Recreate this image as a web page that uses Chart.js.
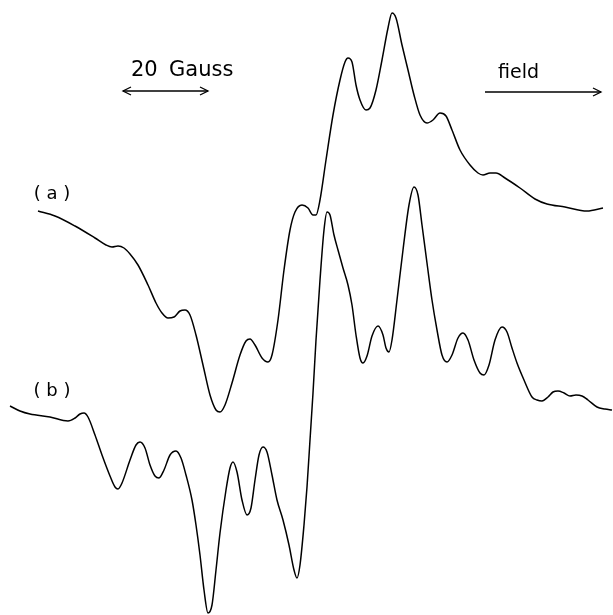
<!DOCTYPE html>
<html><head><meta charset="utf-8">
<script src="https://cdn.jsdelivr.net/npm/chart.js@4/dist/chart.umd.min.js"></script>
<style>html,body{margin:0;padding:0;background:#fff}#wrap{width:613px;height:615px}</style>
</head><body><div id="wrap"><canvas id="c" width="613" height="615"></canvas></div>
<script>
// Field position (arbitrary units along the sweep) and signal (arbitrary units, downward positive)
const fieldA = [38,55,75,95,106,112,118,124,130,138,148,156,162,168,174,180,185,190,196,203,210,216,220,225,232,240,246,250,255,262,268,272,278,284,290,295,302,308,313,316,320,326,333,340,345,348,352,356,360,366,370,376,382,388,392,396,402,408,414,420,427,433,440,446,452,460,470,478,483,490,496,505,520,535,547,565,587,603];
const signalA = [211,216,226,238,245,247,246,248,254,265,285,303,313,318,317,311,310,315,335,365,395,410,412,405,383,355,341,339,345,358,362,355,320,270,230,212,205,208,215,215,200,160,115,80,62,58,62,85,100,110,108,90,60,28,13,18,45,70,95,115,123,120,113,116,130,150,165,173,175,173,173,178,188,199,204,207,211,208];
const fieldB = [10,20,30,50,68,75,80,84,88,95,102,110,115,118,122,130,136,140,145,150,155,159,164,170,176,181,186,192,196,200,204,208,212,216,220,226,230,233,237,242,247,251,255,259,263,267,272,277,283,289,294,297,300,304,307,310,313,316,320,324,327,330,334,338,343,348,352,356,360,363,367,372,378,383,386,389,392,397,403,409,414,418,422,427,432,437,442,447,452,458,463,468,474,480,484,489,495,502,507,512,517,524,532,537,542,548,553,558,564,570,576,582,588,597,605,612];
const signalB = [406,411,414,417,421,418,414,413,417,435,455,476,487,489,483,460,445,442,448,465,476,478,470,455,451,458,475,500,525,555,590,613,605,570,533,490,468,462,472,500,515,508,480,455,447,452,475,500,520,545,570,578,565,525,487,440,393,340,280,230,212,215,235,250,268,285,305,335,358,363,356,336,326,335,348,352,340,300,250,205,187,195,225,263,300,330,355,362,355,338,333,340,360,373,375,365,340,327,332,348,363,380,397,400,401,397,392,391,393,396,395,396,400,407,409,410];
const seriesLabels = ['( a )', '( b )'];
const scaleText = ['20', 'Gauss'];
const fieldText = 'field';

const toPts = (xs, ys) => xs.map((x, i) => ({x: x, y: ys[i]}));

// annotation layout (positions in chart units)
const layoutNotes = {
  labelA: {x: 52, y: 194},
  labelB: {x: 52, y: 391},
  scaleNum: {x: 131, y: 71},
  scaleUnit: {x: 169, y: 71},
  scaleArrow: {x1: 123, x2: 208, y: 91},
  fieldLbl: {x: 498, y: 73},
  fieldArrow: {x1: 485, x2: 601, y: 92}
};

const notesPlugin = {
  id: 'notes',
  afterDatasetsDraw(chart) {
    const {ctx, scales: {x, y}} = chart;
    const L = layoutNotes;
    const px = v => x.getPixelForValue(v), py = v => y.getPixelForValue(v);
    ctx.save();
    ctx.fillStyle = '#000';
    ctx.strokeStyle = '#000';
    ctx.font = '18px "DejaVu Sans"';
    ctx.textBaseline = 'middle';
    ctx.textAlign = 'center';
    ctx.fillText(seriesLabels[0], px(L.labelA.x), py(L.labelA.y));
    ctx.fillText(seriesLabels[1], px(L.labelB.x), py(L.labelB.y));
    ctx.textAlign = 'left';
    ctx.font = '21px "DejaVu Sans"';
    ctx.fillText(scaleText[0], px(L.scaleNum.x), py(L.scaleNum.y));
    ctx.font = '21px "DejaVu Sans"';
    ctx.fillText(scaleText[1], px(L.scaleUnit.x), py(L.scaleUnit.y));
    ctx.font = '19px "DejaVu Sans"';
    ctx.fillText(fieldText, px(L.fieldLbl.x), py(L.fieldLbl.y));
    ctx.lineWidth = 1.3;
    const head = (xx, yy, dir) => {
      ctx.beginPath();
      ctx.moveTo(xx - dir * 8, yy - 4);
      ctx.lineTo(xx, yy);
      ctx.lineTo(xx - dir * 8, yy + 4);
      ctx.stroke();
    };
    let a = L.scaleArrow;
    ctx.beginPath(); ctx.moveTo(px(a.x1), py(a.y)); ctx.lineTo(px(a.x2), py(a.y)); ctx.stroke();
    head(px(a.x1), py(a.y), -1); head(px(a.x2), py(a.y), 1);
    a = L.fieldArrow;
    ctx.beginPath(); ctx.moveTo(px(a.x1), py(a.y)); ctx.lineTo(px(a.x2), py(a.y)); ctx.stroke();
    head(px(a.x2), py(a.y), 1);
    ctx.restore();
  }
};

new Chart(document.getElementById('c'), {
  type: 'scatter',
  data: {
    datasets: [
      {label: 'a', data: toPts(fieldA, signalA), showLine: true, borderColor: '#000', borderWidth: 1.5, pointRadius: 0, cubicInterpolationMode: 'monotone', fill: false},
      {label: 'b', data: toPts(fieldB, signalB), showLine: true, borderColor: '#000', borderWidth: 1.5, pointRadius: 0, cubicInterpolationMode: 'monotone', fill: false}
    ]
  },
  options: {
    responsive: false,
    animation: false,
    layout: {padding: 0},
    plugins: {legend: {display: false}, tooltip: {enabled: false}},
    scales: {
      x: {type: 'linear', min: 0, max: 613, display: false},
      y: {type: 'linear', min: 0, max: 615, reverse: true, display: false}
    }
  },
  plugins: [notesPlugin]
});
</script>
</body></html>
